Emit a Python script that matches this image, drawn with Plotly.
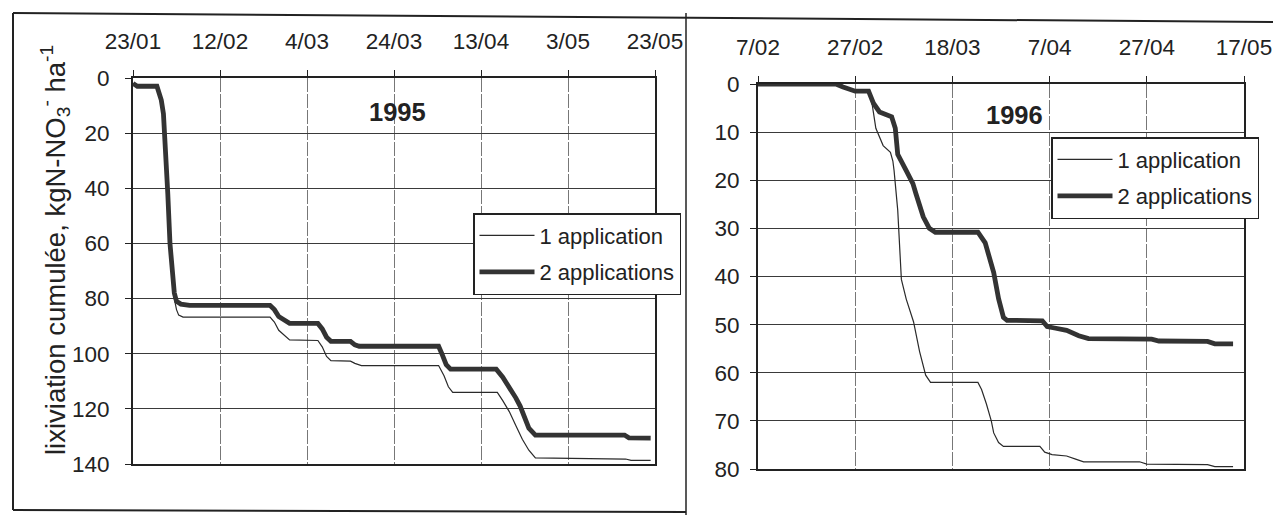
import plotly.graph_objects as go
from plotly.subplots import make_subplots

W, H = 1281, 515
OFF = 8  # page body margin of the html page
FW, FH = W - OFF, H - OFF
FONT = "Liberation Sans, Arial, sans-serif"
INK = "#2a2a2a"

series_names = ["1 application", "2 applications"]
year_labels = ["1995", "1996"]

# 1995 - cumulative leaching, 1 application
dates_95_one = ["1995-01-23", "1995-01-24", "1995-01-28 12:00", "1995-01-29 12:00", "1995-01-30",
                "1995-01-30 12:00", "1995-01-31", "1995-01-31 12:00", "1995-02-01", "1995-02-01 12:00",
                "1995-02-02", "1995-02-02 12:00", "1995-02-03 12:00", "1995-02-23 12:00", "1995-02-24 12:00",
                "1995-02-25 12:00", "1995-02-26 12:00", "1995-02-28", "1995-03-06 12:00", "1995-03-07 12:00",
                "1995-03-08 12:00", "1995-03-09 12:00", "1995-03-14", "1995-03-15", "1995-03-16 12:00",
                "1995-04-03 06:00", "1995-04-04 12:00", "1995-04-05 12:00", "1995-04-06 12:00", "1995-04-16 18:00",
                "1995-04-18", "1995-04-19 12:00", "1995-04-21", "1995-04-22 12:00", "1995-04-24",
                "1995-04-25 12:00", "1995-05-16 06:00", "1995-05-17 12:00", "1995-05-22"]
leach_95_one = [2, 3, 3, 8, 13, 25, 42, 60, 72, 80, 84, 86, 86.7, 86.7, 88.5, 91.5, 93, 95, 95.2, 97.5,
                101, 102.5, 102.7, 103.5, 104.3, 104.3, 108, 112, 114, 114, 117, 121, 126, 131, 135,
                137.8, 138.2, 138.7, 138.7]

# 1995 - cumulative leaching, 2 applications
dates_95_two = ["1995-01-23", "1995-01-24", "1995-01-28 12:00", "1995-01-29 12:00", "1995-01-30",
                "1995-01-30 12:00", "1995-01-31", "1995-01-31 12:00", "1995-02-01", "1995-02-01 12:00",
                "1995-02-02", "1995-02-03", "1995-02-05", "1995-02-23 12:00", "1995-02-24 12:00",
                "1995-02-25 12:00", "1995-02-26 12:00", "1995-02-28", "1995-03-06 12:00", "1995-03-07 12:00",
                "1995-03-08 12:00", "1995-03-09 12:00", "1995-03-14", "1995-03-15", "1995-03-16",
                "1995-04-03 06:00", "1995-04-04", "1995-04-05", "1995-04-06", "1995-04-16 12:00",
                "1995-04-18", "1995-04-19 12:00", "1995-04-21", "1995-04-22", "1995-04-23",
                "1995-04-24", "1995-04-25 12:00", "1995-05-16", "1995-05-17", "1995-05-22"]
leach_95_two = [2, 3, 3, 8, 13, 25, 42, 60, 70, 78, 81, 82, 82.5, 82.5, 84, 86.5, 87.5, 89, 89, 91,
                94, 95.5, 95.5, 96.8, 97.3, 97.3, 100, 104, 105.6, 105.6, 108.5, 112, 116, 119, 123,
                127, 129.5, 129.5, 130.5, 130.6]

# 1996 - cumulative leaching, 1 application
dates_96_one = ["1996-02-07", "1996-02-23", "1996-02-24 12:00", "1996-02-26", "1996-02-27",
                "1996-02-29 18:00", "1996-03-01 12:00", "1996-03-02 06:00", "1996-03-03 18:00", "1996-03-05 06:00",
                "1996-03-05 18:00", "1996-03-06", "1996-03-06 18:00", "1996-03-07 12:00", "1996-03-08 12:00",
                "1996-03-10", "1996-03-11 06:00", "1996-03-12 12:00", "1996-03-13 12:00", "1996-03-23 06:00",
                "1996-03-24", "1996-03-25", "1996-03-26", "1996-03-26 12:00", "1996-03-27 12:00",
                "1996-03-28 12:00", "1996-04-05", "1996-04-06", "1996-04-07 12:00", "1996-04-10 12:00",
                "1996-04-12 12:00", "1996-04-14", "1996-04-25 12:00", "1996-04-27", "1996-05-09 12:00",
                "1996-05-11", "1996-05-14 18:00"]
leach_96_one = [0, 0, 0.6, 1.3, 1.5, 1.5, 4.3, 9.2, 12.8, 14.2, 16, 18, 26.2, 40.6, 44.7, 49.4, 55.6,
                60.5, 62, 62, 63.5, 66.5, 70, 72.5, 74.5, 75.3, 75.3, 76.5, 77, 77.3, 78, 78.5, 78.5,
                79, 79.1, 79.5, 79.5]

# 1996 - cumulative leaching, 2 applications
dates_96_two = ["1996-02-07", "1996-02-23", "1996-02-24 12:00", "1996-02-26", "1996-02-27",
                "1996-02-29 18:00", "1996-03-01 18:00", "1996-03-03", "1996-03-05 12:00", "1996-03-06 06:00",
                "1996-03-06 18:00", "1996-03-08 12:00", "1996-03-09 21:00", "1996-03-10 12:00", "1996-03-12",
                "1996-03-13 06:00", "1996-03-14 12:00", "1996-03-23 06:00", "1996-03-24 18:00", "1996-03-26 12:00",
                "1996-03-27 12:00", "1996-03-28 12:00", "1996-03-29 06:00", "1996-04-05 12:00", "1996-04-06 12:00",
                "1996-04-08", "1996-04-10 12:00", "1996-04-13", "1996-04-15", "1996-04-28",
                "1996-04-29 12:00", "1996-05-09 12:00", "1996-05-11", "1996-05-14 18:00"]
leach_96_two = [0, 0, 0.6, 1.3, 1.5, 1.5, 4, 5.8, 6.8, 9.2, 14.6, 18, 20.7, 22.8, 27.6, 30, 30.8, 30.8,
                33, 39.2, 44.6, 48.5, 49.1, 49.2, 50.4, 50.7, 51.2, 52.3, 52.9, 53, 53.4, 53.5, 54, 54]

x_range_95 = ["1995-01-23", "1995-05-23"]
x_range_96 = ["1996-02-07", "1996-05-17"]
y_ticks_95 = [0, 20, 40, 60, 80, 100, 120, 140]
y_ticks_96 = [0, 10, 20, 30, 40, 50, 60, 70, 80]


# page pixel -> paper fraction (figure sits 8px into the page)
def px(x):
    return (x - OFF) / FW


def py(y):
    return 1 - (y - OFF) / FH


fig = make_subplots(rows=1, cols=2)

panels = [
    (1, "legend", dates_95_one, leach_95_one, dates_95_two, leach_95_two),
    (2, "legend2", dates_96_one, leach_96_one, dates_96_two, leach_96_two),
]
for col, leg, d1, v1, d2, v2 in panels:
    fig.add_trace(go.Scatter(x=d1, y=v1, mode="lines", name=series_names[0], legend=leg,
                             legendgroup=f"{leg}a", line=dict(color=INK, width=1.2)), row=1, col=col)
    fig.add_trace(go.Scatter(x=d2, y=v2, mode="lines", name=series_names[1], legend=leg,
                             legendgroup=f"{leg}b", line=dict(color="#333333", width=4.8)), row=1, col=col)

axis_style = dict(showline=True, linecolor="#222", linewidth=2, mirror=True, ticks="outside",
                  ticklen=6, tickcolor="#222", tickfont=dict(size=22.5, color="#222", family=FONT),
                  zeroline=False, showgrid=True)
xstyle = dict(axis_style, type="date", side="top", dtick=20 * 86400000, tickformat="%-d/%m",
              gridcolor="#777777", gridwidth=1, griddash="14px,2px", ticklabelstandoff=12)
ystyle = dict(axis_style, gridcolor="#3a3a3a", gridwidth=1)

fig.update_xaxes(xstyle)
fig.update_yaxes(ystyle)
fig.update_xaxes(range=x_range_95, tick0=x_range_95[0], domain=[px(133), px(655)], row=1, col=1)
fig.update_xaxes(range=x_range_96, tick0=x_range_96[0], domain=[px(758), px(1244)], row=1, col=2)
fig.update_yaxes(range=[y_ticks_95[-1], 0], tickvals=y_ticks_95, domain=[py(464), py(78)],
                 ticklabelstandoff=11, row=1, col=1)
fig.update_yaxes(range=[y_ticks_96[-1], 0], tickvals=y_ticks_96, domain=[py(469), py(84)],
                 ticklabelstandoff=6, row=1, col=2)

legend_style = dict(xanchor="left", yanchor="top", bordercolor="#222", borderwidth=1.5,
                    bgcolor="white", font=dict(size=22, color="#222", family=FONT),
                    traceorder="grouped", tracegroupgap=5, itemwidth=55)

fig.update_layout(
    width=FW, height=FH, template="none",
    margin=dict(l=0, r=0, t=0, b=0),
    paper_bgcolor="white", plot_bgcolor="white",
    font=dict(family=FONT, color="#222"),
    showlegend=True,
    legend=dict(legend_style, x=px(473), y=py(213)),
    legend2=dict(legend_style, x=px(1051), y=py(137)),
    annotations=[
        dict(text="<b>" + year_labels[0] + "</b>", x=px(397), y=py(112), xref="paper", yref="paper",
             xanchor="center", yanchor="middle", showarrow=False, font=dict(size=25.5, color="#222")),
        dict(text="<b>" + year_labels[1] + "</b>", x=px(1015), y=py(115), xref="paper", yref="paper",
             xanchor="center", yanchor="middle", showarrow=False, font=dict(size=25.5, color="#222")),
        dict(text="lixiviation cumulée, kgN-NO<sub>3</sub><sup>-</sup> ha<sup>-1</sup>",
             x=px(55), y=py(250), xref="paper", yref="paper", textangle=-90,
             xanchor="center", yanchor="middle", showarrow=False, font=dict(size=27.5, color="#222")),
    ],
    shapes=[
        # scanned page frame
        dict(type="line", xref="paper", yref="paper", x0=px(13), y0=py(13), x1=px(1281), y1=py(22),
             line=dict(color="#222", width=2)),
        dict(type="line", xref="paper", yref="paper", x0=px(13), y0=py(13), x1=px(13), y1=py(510),
             line=dict(color="#222", width=2)),
        dict(type="line", xref="paper", yref="paper", x0=px(13), y0=py(510), x1=px(686), y1=py(512),
             line=dict(color="#222", width=2)),
        dict(type="line", xref="paper", yref="paper", x0=px(686), y0=py(13), x1=px(686), y1=py(515),
             line=dict(color="#222", width=1.5)),
    ],
)

fig.write_html("out.html")
